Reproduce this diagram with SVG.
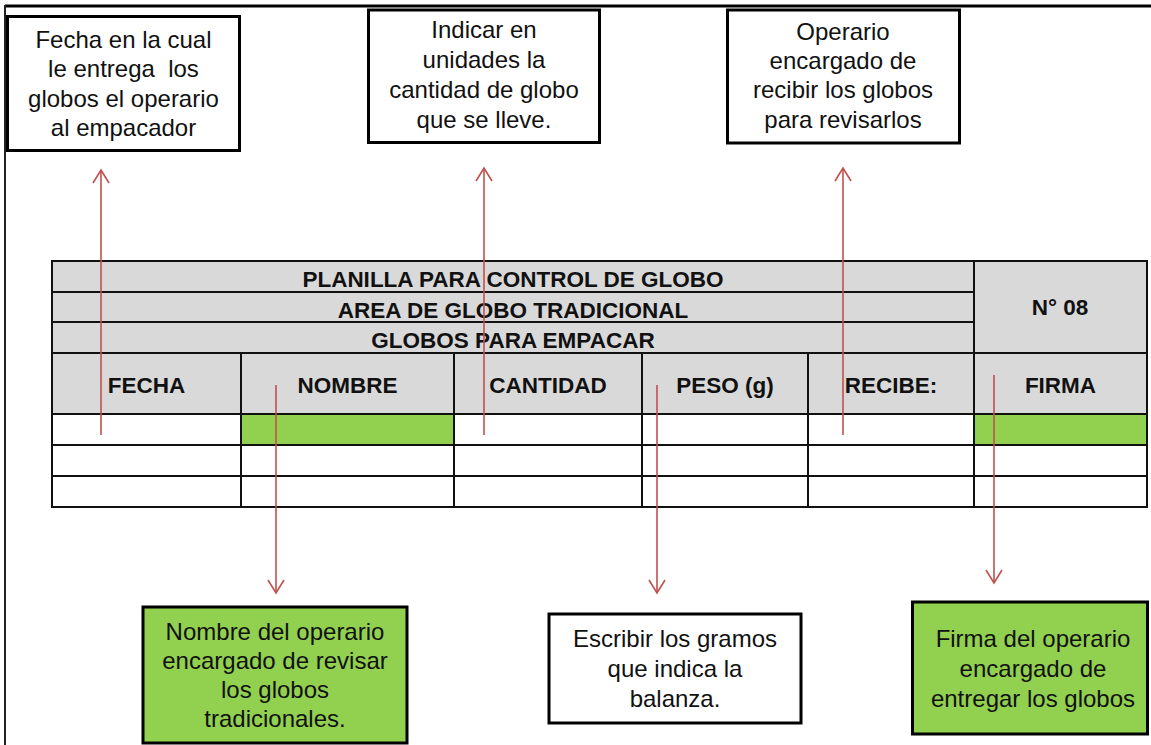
<svg xmlns="http://www.w3.org/2000/svg" width="1151" height="745" viewBox="0 0 1151 745">
  <style>
    .box { stroke: #000; stroke-width: 3; }
    .white { fill: #fff; }
    .green { fill: #92d050; }
    .gray { fill: #d9d9d9; }
    .t { font-family: "Liberation Sans", Arial, sans-serif; font-size: 24px; fill: #111; text-anchor: middle; white-space: pre; }
    .h { font-family: "Liberation Sans", Arial, sans-serif; font-size: 22.5px; font-weight: bold; fill: #111; text-anchor: middle; }
    .grid { stroke: #111; stroke-width: 2; fill: none; }
    .conn { stroke: #c0504d; stroke-width: 1.6; fill: none; }
  </style>
  <defs>
    <marker id="arrow" viewBox="-15 -10 17 20" refX="0" refY="0" markerWidth="17" markerHeight="20" markerUnits="userSpaceOnUse" orient="auto">
      <path d="M-13,-8 L0,0 L-13,8" fill="none" stroke="#c0504d" stroke-width="1.6"/>
    </marker>
  </defs>
  <rect width="1151" height="745" fill="#fff"/>
  <g id="frame">
    <line x1="5" y1="6" x2="1151" y2="6" stroke="#000" stroke-width="3"/>
    <line x1="5" y1="5" x2="5" y2="745" stroke="#222" stroke-width="2"/>
  </g>

  <g id="table">
    <rect x="52" y="261" width="1095" height="153" class="gray"/>
    <rect x="52" y="414" width="1095" height="93" class="white"/>
    <rect x="241" y="414" width="213" height="31" class="green"/>
    <rect x="974" y="414" width="173" height="31" class="green"/>
    <rect x="52" y="261" width="1095" height="246" class="grid"/>
    <path class="grid" d="M52,292 H974 M52,322 H974 M52,353 H1147 M52,414 H1147 M52,445 H1147 M52,476 H1147 M974,261 V507 M241,353 V507 M454,353 V507 M642,353 V507 M808,353 V507"/>
    <text class="h" x="513" y="287">PLANILLA PARA CONTROL DE GLOBO</text>
    <text class="h" x="513" y="318">AREA DE GLOBO TRADICIONAL</text>
    <text class="h" x="513" y="348">GLOBOS PARA EMPACAR</text>
    <text class="h" x="1060" y="315">N° 08</text>
    <text class="h" x="146.5" y="393">FECHA</text>
    <text class="h" x="347.5" y="393">NOMBRE</text>
    <text class="h" x="548" y="393">CANTIDAD</text>
    <text class="h" x="725" y="393">PESO (g)</text>
    <text class="h" x="891" y="393">RECIBE:</text>
    <text class="h" x="1060.5" y="393">FIRMA</text>
  </g>

  <g id="note-fecha">
    <rect x="7.5" y="16.5" width="232" height="134" class="box white"/>
    <text class="t" x="123.5" y="48">Fecha en la cual</text>
    <text class="t" x="123.5" y="77">le entrega  los</text>
    <text class="t" x="123.5" y="107">globos el operario</text>
    <text class="t" x="123.5" y="136">al empacador</text>
  </g>
  <g id="note-cantidad">
    <rect x="368.5" y="10" width="231" height="132.5" class="box white"/>
    <text class="t" x="484" y="38">Indicar en</text>
    <text class="t" x="484" y="68">unidades la</text>
    <text class="t" x="484" y="98">cantidad de globo</text>
    <text class="t" x="484" y="128">que se lleve.</text>
  </g>
  <g id="note-recibe">
    <rect x="727.5" y="10" width="232" height="133" class="box white"/>
    <text class="t" x="843" y="40">Operario</text>
    <text class="t" x="843" y="69">encargado de</text>
    <text class="t" x="843" y="98">recibir los globos</text>
    <text class="t" x="843" y="128">para revisarlos</text>
  </g>
  <g id="note-nombre">
    <rect x="143" y="607" width="264" height="136" class="box green"/>
    <text class="t" x="275" y="640">Nombre del operario</text>
    <text class="t" x="275" y="669">encargado de revisar</text>
    <text class="t" x="275" y="698">los globos</text>
    <text class="t" x="275" y="727">tradicionales.</text>
  </g>
  <g id="note-peso">
    <rect x="549" y="614" width="252" height="109" class="box white"/>
    <text class="t" x="675" y="647">Escribir los gramos</text>
    <text class="t" x="675" y="677">que indica la</text>
    <text class="t" x="675" y="707">balanza.</text>
  </g>
  <g id="note-firma">
    <rect x="912.5" y="602" width="235" height="132" class="box green"/>
    <text class="t" x="1033" y="647">Firma del operario</text>
    <text class="t" x="1033" y="677">encargado de</text>
    <text class="t" x="1033" y="707">entregar los globos</text>
  </g>

  <g id="connectors">
    <path class="conn" d="M101,435 V170" marker-end="url(#arrow)"/>
    <path class="conn" d="M484,435 V168" marker-end="url(#arrow)"/>
    <path class="conn" d="M843,435 V168" marker-end="url(#arrow)"/>
    <path class="conn" d="M276,385 V593" marker-end="url(#arrow)"/>
    <path class="conn" d="M657,385 V593" marker-end="url(#arrow)"/>
    <path class="conn" d="M994,375 V583" marker-end="url(#arrow)"/>
  </g>
</svg>
